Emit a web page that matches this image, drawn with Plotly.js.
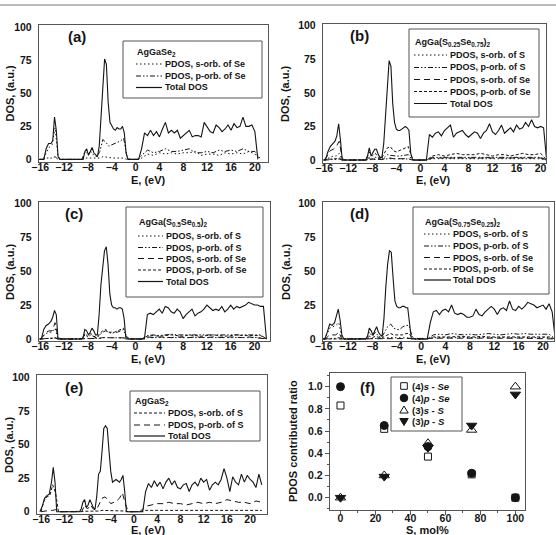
<!DOCTYPE html>
<html>
<head>
<meta charset="utf-8">
<script src="https://cdn.plot.ly/plotly-3.0.1.min.js"></script>
<style>html,body{margin:0;padding:0;background:#fff}</style>
</head>
<body>
<div id="chart" style="width:556px;height:535px"></div>
<script>
// ---------- energy grids (eV) ----------
const E_TOTAL = [-16.2,-15.8,-15.4,-15.0,-14.6,-14.2,-13.9,-13.6,-13.3,-13.0,-12.7,
  -9.4,-9.1,-8.8,-8.5,-8.2,-7.9,-7.6,-7.3,-7.0,-6.7,-6.4,-6.1,-5.8,-5.5,-5.2,-4.9,-4.6,-4.3,-4.0,-3.7,-3.4,-3.1,-2.8,-2.5,-2.2,-1.9,-1.6,-1.3,
  0.5,1.0,1.5,2.0,2.5,3.0,3.5,4.0,4.5,5.0,5.5,6.0,6.5,7.0,7.5,8.0,8.5,9.0,9.5,10.0,10.5,11.0,11.5,12.0,12.5,13.0,13.5,14.0,14.5,15.0,15.5,16.0,16.5,17.0,17.5,18.0,18.5,19.0,19.5,20.0,20.5,21.0,21.5,22.0];
const E_PDOS = [-16,-15.5,-15,-14.5,-14,-13.5,-13,-12.5,
  -9.5,-9,-8.5,-8,-7.5,-7,-6.5,-6,-5.5,-5,-4.5,-4,-3.5,-3,-2.5,-2,-1.5,-1,
  0.5,1,
  2,3,4,5,6,7,8,9,10,11,12,13,14,15,16,17,18,19,20,21,22];

// ---------- (a) AgGaSe2 ----------
const TOTAL_A = [0,0,0,8,12,12,14,32,22,2,0,
  0,0,0,6,8,3,6,9,5,3,2,10,30,55,76,72,43,28,25,23,22,24,23,23,25,20,5,0,
  0,8,20,18,22,18,21,17,23,28,20,22,20,22,16,18,20,22,17,18,18,17,28,24,21,20,26,24,21,23,26,22,27,24,25,32,25,25,26,21,0,null,null,null];
const SSE_A = [0,0,5,9,11,24,2,0,
  0,0,1,1,1,1,0.5,1,2,2,1.5,1,1,1,1,1,0,0,
  0,1,
  4,3,5,4,5,4,5,5,6,3,4,4,3,5,4,5,4,6,4,0,null];
const PSE_A = [0,0,1,1,1,2,0,0,
  0,0,6,4,6,3,2,6,15,13,10,11,12,13,14,16,3,0,
  0,3,
  7,5,6,8,6,6,7,8,5,5,6,5,7,6,7,6,8,6,6,0,null];

// ---------- (b) AgGa(S0.25Se0.75)2 ----------
const TOTAL_B = [0,0,6,10,12,14,18,27,15,0,0,
  0,0,3,9,3,5,8,8,4,2,2,12,35,58,74,70,42,28,23,22,22,23,24,25,24,22,5,0,
  0,0,19,17,20,21,18,22,24,26,17,20,21,22,19,17,19,21,20,16,20,22,27,21,19,22,26,20,22,24,21,26,23,24,28,25,30,25,24,25,24,0,null,null];
const SS_B = [0,1,2,3,3,5,0,0,
  0,0,0.5,0.5,0.5,0.5,0.3,0.5,1,1,0.8,0.6,0.6,0.6,0.6,0.8,0.2,0,
  0,0,
  1,1,1,1.2,1,1,1.2,1,1,1.2,1,1,1,1.2,1,1,1.2,1,1,0,null];
const PS_B = [0,0,0.3,0.5,0.5,0.8,0,0,
  0,0,2,1,2,1,0.5,2,4,3.5,3,3,3,3.5,3.5,4,1,0,
  0,0,
  2,2,2.5,2,2.5,2,2,2.5,2,2,2.5,2,2,2.5,2,2.5,2,2.5,2,0,null];
const SSE_B = [0,3,7,8,10,14,1,0,
  0,0,1,0.5,1,0.5,0.3,1,1.5,1.5,1,1,1,1,1,1,0.3,0,
  0,0,
  1.5,1.5,1,1.5,1.5,1,1.5,1.5,1,1.5,1.5,1,1.5,1,1.5,1.5,1,1.5,1.5,0,null];
const PSE_B = [0,0.5,1,1,1,1.5,0,0,
  0,0,6,3,5,2,1,5,9,10,7,6,7,8,9,10,3,0,
  0,0,
  3,4,3,4,5,4,4,4,5,4,3,4,4,3,4,5,4,4,5,0,null];

// ---------- (c) AgGa(S0.5Se0.5)2 ----------
const TOTAL_C = [0,0,7,10,11,13,16,21,18,0,0,
  0,0,1,7,6,3,5,8,6,3,3,18,40,55,65,68,55,33,25,23,23,22,23,23,22,15,0,0,
  0,0,0,18,19,18,20,22,19,24,23,20,19,22,20,15,18,20,22,17,19,20,22,25,23,21,22,21,24,20,22,25,22,24,23,24,25,27,26,25,25,24,24,0];
const SS_C = [0,2,4,5,5,8,0,0,
  0,0,0.5,0.5,0.5,0.5,0.3,0.5,1,1,0.8,0.6,0.6,0.6,0.6,0.8,0.3,0,
  0,0,
  1,1,1,1,1.2,1,1,1.2,1,1,1,1.2,1,1,1.2,1,1,1,1.2,1,0];
const PS_C = [0,0,0.3,0.5,0.5,0.8,0,0,
  0,0,3,1.5,3,1.5,0.5,3,5,6,5,4,5,5,6,7,1,0,
  0,0,
  2.5,3,2.5,3,3.5,3,3,3.5,3,3,3.5,3,3,3.5,3,3.5,3,3.5,3,3,0];
const SSE_C = [0,2,5,6,6,12,1,0,
  0,0,0.5,0.5,0.5,0.5,0.3,0.5,1,1,0.8,0.6,0.6,0.6,0.6,0.8,0.3,0,
  0,0,
  1.5,1,1.5,1,1,1.5,1,1,1.5,1,1,1.5,1,1,1.5,1,1,1.5,1,1,0];
const PSE_C = [0,0.3,0.5,0.5,0.5,1,0,0,
  0,0,4,2,4,2,1,4,6,7,5,5,5,6,7,8,2,0,
  0,0,
  2,2.5,2,2.5,3,2.5,2,3,2.5,2,2.5,3,2.5,2,2.5,3,2.5,2.5,3,2.5,0];

// ---------- (d) AgGa(S0.75Se0.25)2 ----------
const TOTAL_D = [0,0,5,11,10,12,17,22,14,3,0,
  0,0,2,8,6,3,6,9,5,3,2,15,38,55,65,64,45,28,24,23,23,24,24,23,23,12,0,0,
  0,0,12,20,21,18,21,22,20,25,19,18,19,18,16,16,17,22,18,17,20,22,24,22,18,22,23,21,28,22,21,24,22,24,27,26,25,23,24,25,22,26,20,0];
const SS_D = [0,3,8,9,10,12,1,0,
  0,0,0.5,0.5,0.5,0.5,0.3,0.5,1,1,0.8,0.6,0.6,0.6,0.6,0.8,0.3,0,
  0,0,
  1,1,1,1.2,1,1,1.2,1,1,1,1.2,1,1,1.2,1,1,1,1.2,1,1,0];
const PS_D = [0,0,0.5,0.5,0.5,1,0,0,
  0,0,5,2,5,2,1,5,9,11,8,7,7,9,10,10,2,0,
  0,0,
  3,3.5,3,4,3.5,3,3.5,3,3.5,4,3.5,3,3.5,4,3.5,4,3.5,3.5,4,3.5,0];
const SSE_D = [0,1,3,3,3,5,0,0,
  0,0,0.3,0.3,0.3,0.3,0.2,0.3,0.5,0.5,0.4,0.3,0.3,0.3,0.3,0.4,0.1,0,
  0,0,
  0.5,0.5,0.6,0.5,0.5,0.6,0.5,0.5,0.6,0.5,0.5,0.6,0.5,0.5,0.6,0.5,0.5,0.6,0.5,0.5,0];
const PSE_D = [0,0,0.3,0.3,0.3,0.5,0,0,
  0,0,2,1,2,1,0.5,2,3,4,3,3,3,3,4,4,1,0,
  0,0,
  1.5,1.5,1,1.5,2,1.5,1.5,1.5,2,1.5,1.5,1.5,2,1.5,1.5,1.5,2,1.5,1.5,1.5,0];

// ---------- (e) AgGaS2 ----------
const TOTAL_E = [0,4,10,12,13,22,33,22,0,0,0,
  0,2,7,9,3,5,9,6,3,2,12,28,30,45,62,64,62,45,30,22,23,24,23,22,24,27,15,0,
  0,0,0,15,21,18,23,19,22,17,22,25,20,23,18,17,20,21,15,20,22,19,25,22,24,16,20,22,20,24,32,25,15,26,22,20,28,22,27,24,22,18,28,20];
const SS_E = [0,8,11,12,20,14,0,0,
  0,0,0.5,0.5,0.5,0.5,0.3,0.5,1,1,0.8,0.6,0.6,0.6,0.6,0.8,0.5,0,
  0,0,
  1,1,1.2,1,1,1.2,1,1,1.2,1,1,1.2,1,1,1.2,1,1,1.2,1,1,1];
const PS_E = [0,0.5,1,1,1,1.5,0,0,
  0,0,5,2,5,2,1,5,10,11,9,6,7,8,10,14,6,0,
  0,0,
  4,5,6,6,7,6,6,5,6,7,6,7,6,7,9,8,7,7,6,8,7];

// ---------- (f) PDOS contributed ratio vs S content ----------
const S_MOL = [0, 25, 50, 75, 100];
const RATIO_S4_SE = [0.83, 0.62, 0.37, 0.21, 0.0];
const RATIO_P4_SE = [1.0, 0.65, 0.46, 0.22, 0.0];
const RATIO_S3_S = [0.0, 0.20, 0.49, 0.61, 1.0];
const RATIO_P3_S = [0.0, 0.19, 0.45, 0.65, 0.93];

// ---------- styling ----------
const W = 556, H = 535;
const px = v => v / W;          // pixel column -> paper x
const py = v => 1 - v / H;      // pixel row -> paper y
const FONT = 'Liberation Sans, Arial, Helvetica, sans-serif';
const INK = '#151515';
const FRAME = '#555';
const DOT = '1.5px,2.5px';
const DASH_DOT_DOT = '5px,2px,1.5px,2px,1.5px,2px';
const LONG_DASH = '6px,4px';
const SHORT_DASH = '3px,2px';
const SOLID = 'solid';

const tickFont = {family: FONT, size: 10.5, color: INK, weight: 'bold'};
const titleFont = {family: FONT, size: 11, color: INK, weight: 'bold'};
const legFont = {family: FONT, size: 9, color: INK, weight: 'bold'};

const S_ORB_S = 'PDOS, s-orb. of S', P_ORB_S = 'PDOS, p-orb. of S';
const S_ORB_SE = 'PDOS, s-orb. of Se', P_ORB_SE = 'PDOS, p-orb. of Se';
const TOTAL = 'Total DOS';

// box = [left, top, right, bottom] in pixels; xt / yt = centres of the axis titles
const DOS_PANELS = [
  {tag: '(a)', title: 'AgGaSe<sub>2</sub>', box: [39, 25, 268, 162], xr: [-16.2, 22.2], yr: [-2, 101.7], tagAt: [77, 37],
   xt: [148, 179.5], yt: [10, 93.5],
   leg: {box: [123, 41, 262, 98], titleAt: [136, 52], rows: [64, 76, 87.5], sample: [136, 162], textX: 164},
   series: [[S_ORB_SE, E_PDOS, SSE_A, DOT], [P_ORB_SE, E_PDOS, PSE_A, DASH_DOT_DOT], [TOTAL, E_TOTAL, TOTAL_A, SOLID]]},
  {tag: '(b)', title: 'AgGa(S<sub>0.25</sub>Se<sub>0.75</sub>)<sub>2</sub>', box: [323, 24, 546, 163], xr: [-16.2, 20.9], yr: [-2.2, 101.3], tagAt: [359, 35],
   xt: [433.5, 179.5], yt: [285.5, 93.5],
   leg: {box: [409, 29, 539, 117], titleAt: [414, 42.5], rows: [55, 67.5, 79.5, 91.5, 103.5], sample: [414, 447], textX: 449},
   series: [[S_ORB_S, E_PDOS, SS_B, DOT], [P_ORB_S, E_PDOS, PS_B, DASH_DOT_DOT], [S_ORB_SE, E_PDOS, SSE_B, LONG_DASH], [P_ORB_SE, E_PDOS, PSE_B, SHORT_DASH], [TOTAL, E_TOTAL, TOTAL_B, SOLID]]},
  {tag: '(c)', title: 'AgGa(S<sub>0.5</sub>Se<sub>0.5</sub>)<sub>2</sub>', box: [39, 202, 270, 341], xr: [-16.2, 22.6], yr: [-1.5, 101], tagAt: [74, 213],
   xt: [148, 358.5], yt: [9.5, 271.5],
   leg: {box: [126, 207, 263, 297], titleAt: [138, 222], rows: [236, 247.5, 258.5, 270, 281.5], sample: [138, 163], textX: 165},
   series: [[S_ORB_S, E_PDOS, SS_C, DOT], [P_ORB_S, E_PDOS, PS_C, DASH_DOT_DOT], [S_ORB_SE, E_PDOS, SSE_C, LONG_DASH], [P_ORB_SE, E_PDOS, PSE_C, SHORT_DASH], [TOTAL, E_TOTAL, TOTAL_C, SOLID]]},
  {tag: '(d)', title: 'AgGa(S<sub>0.75</sub>Se<sub>0.25</sub>)<sub>2</sub>', box: [323, 202, 554, 341], xr: [-16.1, 21.8], yr: [-1.5, 101], tagAt: [359, 213],
   xt: [433.5, 358.5], yt: [285.5, 271.5],
   leg: {box: [413, 207, 549, 294], titleAt: [424, 222], rows: [234, 246, 257.5, 269, 280], sample: [424, 451], textX: 452},
   series: [[S_ORB_S, E_PDOS, SS_D, DOT], [P_ORB_S, E_PDOS, PS_D, DASH_DOT_DOT], [S_ORB_SE, E_PDOS, SSE_D, LONG_DASH], [P_ORB_SE, E_PDOS, PSE_D, SHORT_DASH], [TOTAL, E_TOTAL, TOTAL_D, SOLID]]},
  {tag: '(e)', title: 'AgGaS<sub>2</sub>', box: [37, 375, 267, 514], xr: [-16.7, 22.9], yr: [-1.7, 101.7], tagAt: [74, 387],
   xt: [148, 529.5], yt: [8.5, 444.5],
   leg: {box: [130, 391, 260, 441], titleAt: [134, 401], rows: [413, 425, 436], sample: [134, 165], textX: 167},
   series: [[S_ORB_S, E_PDOS, SS_E, SHORT_DASH], [P_ORB_S, E_PDOS, PS_E, LONG_DASH], [TOTAL, E_TOTAL, TOTAL_E, SOLID]]}
];

const traces = [];
const layout = {
  width: W, height: H, margin: {l: 0, r: 0, t: 0, b: 0},
  paper_bgcolor: '#fff', plot_bgcolor: '#fff', showlegend: false,
  shapes: [], annotations: []
};

// thin running rule across the top of the page
layout.shapes.push({type: 'line', xref: 'paper', yref: 'paper', x0: 0, x1: 1, y0: py(5), y1: py(5), line: {color: '#777', width: 1}});

function axisId(n) { return n === 1 ? '' : String(n); }

function frameAxis(domain, range) {
  return {
    domain: domain, range: range, showline: true, mirror: true, linecolor: FRAME, linewidth: 1.2,
    showgrid: false, zeroline: false, tickfont: tickFont, fixedrange: true
  };
}

function axisTitle(text, at, vertical) {
  layout.annotations.push({xref: 'paper', yref: 'paper', x: px(at[0]), y: py(at[1]), xanchor: 'center', yanchor: 'middle',
    text: text, textangle: vertical ? -90 : 0, showarrow: false, font: titleFont, borderpad: 0});
}

function addLegendBox(leg, title, series) {
  const b = leg.box;
  layout.shapes.push({type: 'rect', xref: 'paper', yref: 'paper', x0: px(b[0]), x1: px(b[2]), y0: py(b[3]), y1: py(b[1]),
    line: {color: FRAME, width: 1}, fillcolor: 'rgba(255,255,255,0)'});
  layout.annotations.push({xref: 'paper', yref: 'paper', x: px(leg.titleAt[0]), y: py(leg.titleAt[1]), xanchor: 'left', yanchor: 'middle',
    text: title, showarrow: false, font: legFont, borderpad: 0});
  series.forEach((s, i) => {
    const y = py(leg.rows[i]);
    layout.shapes.push({type: 'line', xref: 'paper', yref: 'paper', x0: px(leg.sample[0]), x1: px(leg.sample[1]), y0: y, y1: y,
      line: {color: INK, width: s[3] === SOLID ? 1.2 : 1, dash: s[3]}});
    layout.annotations.push({xref: 'paper', yref: 'paper', x: px(leg.textX), y: y, xanchor: 'left', yanchor: 'middle',
      text: s[0], showarrow: false, font: legFont, borderpad: 0});
  });
}

DOS_PANELS.forEach((P, k) => {
  const n = k + 1, id = axisId(n);
  const xa = frameAxis([px(P.box[0]), px(P.box[2])], P.xr);
  Object.assign(xa, {anchor: 'y' + id, ticks: '', tickmode: 'linear', tick0: 0, dtick: 4, ticklabelstandoff: -5});
  const ya = frameAxis([py(P.box[3]), py(P.box[1])], P.yr);
  Object.assign(ya, {anchor: 'x' + id, ticks: '', tickmode: 'linear', tick0: 0, dtick: 25, ticklabelstandoff: 4});
  layout['xaxis' + id] = xa;
  layout['yaxis' + id] = ya;
  axisTitle('E, (eV)', P.xt, false);
  axisTitle('DOS, (a.u.)', P.yt, true);

  P.series.forEach(s => {
    traces.push({type: 'scatter', mode: 'lines', name: s[0], x: s[1], y: s[2], xaxis: 'x' + id, yaxis: 'y' + id,
      line: {color: INK, width: s[3] === SOLID ? 1.1 : 1, dash: s[3]}, connectgaps: false, hoverinfo: 'skip'});
  });

  layout.annotations.push({xref: 'paper', yref: 'paper', x: px(P.tagAt[0]), y: py(P.tagAt[1]), xanchor: 'center', yanchor: 'middle',
    text: P.tag, showarrow: false, font: {family: FONT, size: 15, color: INK, weight: 'bold'}});
  addLegendBox(P.leg, P.title, P.series);
});

// ---------- panel (f) ----------
const F_BOX = [330, 373, 525, 510];
const xf = frameAxis([px(F_BOX[0]), px(F_BOX[2])], [-6, 105.5]);
Object.assign(xf, {anchor: 'y6', ticks: 'outside', ticklen: 4, tickwidth: 1, tickcolor: FRAME, tickmode: 'linear', tick0: 0, dtick: 20,
  ticklabelstandoff: -6, minor: {ticks: 'outside', ticklen: 2, tickcolor: FRAME, dtick: 10, tick0: 0}});
const yf = frameAxis([py(F_BOX[3]), py(F_BOX[1])], [-0.111, 1.123]);
Object.assign(yf, {anchor: 'x6', ticks: 'outside', ticklen: 4, tickwidth: 1, tickcolor: FRAME, tickmode: 'linear', tick0: 0, dtick: 0.2,
  tickformat: '.1f', minor: {ticks: 'outside', ticklen: 2, tickcolor: FRAME, dtick: 0.1, tick0: 0}});
layout.xaxis6 = xf;
layout.yaxis6 = yf;
axisTitle('S, mol%', [427.5, 529.5], false);
axisTitle('PDOS contributed ratio', [292.5, 441.5], true);

const F_SERIES = [
  {name: '(4)s - Se', y: RATIO_S4_SE, symbol: 'square-open', size: 7},
  {name: '(4)p - Se', y: RATIO_P4_SE, symbol: 'circle', size: 8},
  {name: '(3)s - S', y: RATIO_S3_S, symbol: 'triangle-up-open', size: 9},
  {name: '(3)p - S', y: RATIO_P3_S, symbol: 'triangle-down', size: 9}
];
F_SERIES.forEach(s => {
  traces.push({type: 'scatter', mode: 'markers', name: s.name, x: S_MOL, y: s.y, xaxis: 'x6', yaxis: 'y6', hoverinfo: 'skip',
    marker: {symbol: s.symbol, size: s.size, color: INK, line: {color: INK, width: 1}}});
});

layout.annotations.push({xref: 'paper', yref: 'paper', x: px(367), y: py(387), xanchor: 'center', yanchor: 'middle',
  text: '(f)', showarrow: false, font: {family: FONT, size: 15, color: INK, weight: 'bold'}});

// legend of (f): symbol glyphs drawn as small shapes beside the labels
const F_LEG = {box: [391, 377, 462, 431], rows: [386, 398, 410, 421.5], symX: 404, textX: 411};
layout.shapes.push({type: 'rect', xref: 'paper', yref: 'paper', x0: px(F_LEG.box[0]), x1: px(F_LEG.box[2]), y0: py(F_LEG.box[3]), y1: py(F_LEG.box[1]),
  line: {color: FRAME, width: 1}, fillcolor: 'rgba(255,255,255,0)'});
const F_LABELS = ['(4)<i>s</i> - <i>Se</i>', '(4)<i>p</i> - <i>Se</i>', '(3)<i>s</i> - <i>S</i>', '(3)<i>p</i> - <i>S</i>'];
const sx = F_LEG.symX;
const symShapes = [
  r => ({type: 'rect', x0: px(sx - 3.3), x1: px(sx + 3.3), y0: py(r + 3.3), y1: py(r - 3.3), line: {color: INK, width: 1}, fillcolor: 'rgba(0,0,0,0)'}),
  r => ({type: 'circle', x0: px(sx - 3.8), x1: px(sx + 3.8), y0: py(r + 3.8), y1: py(r - 3.8), line: {color: INK, width: 1}, fillcolor: INK}),
  r => ({type: 'path', path: `M${px(sx)},${py(r - 4)} L${px(sx + 4.2)},${py(r + 3)} L${px(sx - 4.2)},${py(r + 3)} Z`, line: {color: INK, width: 1}, fillcolor: 'rgba(0,0,0,0)'}),
  r => ({type: 'path', path: `M${px(sx - 4.2)},${py(r - 3)} L${px(sx + 4.2)},${py(r - 3)} L${px(sx)},${py(r + 4)} Z`, line: {color: INK, width: 1}, fillcolor: INK})
];
F_LEG.rows.forEach((r, i) => {
  layout.shapes.push(Object.assign({xref: 'paper', yref: 'paper'}, symShapes[i](r)));
  layout.annotations.push({xref: 'paper', yref: 'paper', x: px(F_LEG.textX), y: py(r), xanchor: 'left', yanchor: 'middle',
    text: F_LABELS[i], showarrow: false, font: {family: FONT, size: 9.5, color: INK, weight: 'bold'}, borderpad: 0});
});

Plotly.newPlot('chart', traces, layout, {staticPlot: true, displayModeBar: false});
</script>
</body>
</html>
